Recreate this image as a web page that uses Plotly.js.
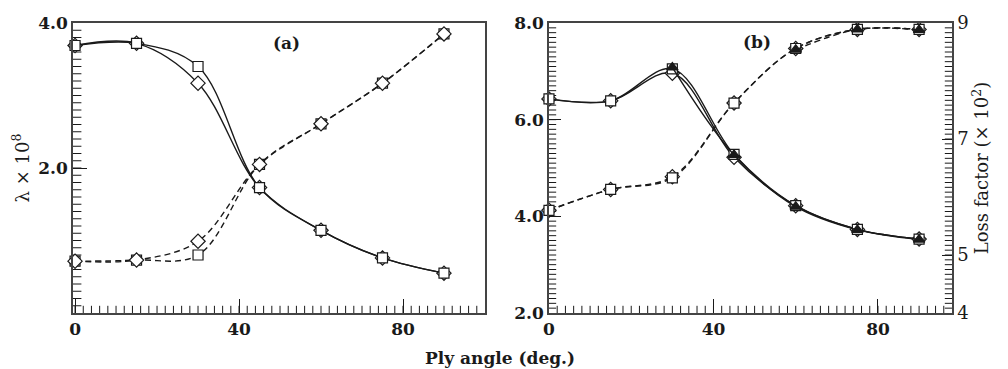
<!DOCTYPE html>
<html>
<head>
<meta charset="utf-8">
<script src="https://cdn.plot.ly/plotly-3.0.1.min.js"></script>
<style>html,body{margin:0;padding:0;background:#fff;}#chart{width:1008px;height:369px;}</style>
</head>
<body>
<div id="chart"></div>
<script>
// Ply angles (deg.)
const plyAngles = [0, 15, 30, 45, 60, 75, 90];

// Panel (a): lambda x 10^8
const aSquareSolid  = [3.69, 3.72, 3.40, 1.73, 1.14, 0.76, 0.55];
const aDiamondSolid = [3.69, 3.72, 3.17, 1.73, 1.14, 0.76, 0.55];
const aSquareDash   = [0.715, 0.73, 0.80, 2.05, 2.61, 3.17, 3.85];
const aDiamondDash  = [0.715, 0.73, 0.99, 2.05, 2.61, 3.17, 3.85];

// Panel (b): solid curves on left axis, dashed curves = loss factor (x10^2) on right axis
const bSquareSolid   = [6.43, 6.39, 7.05, 5.28, 4.22, 3.73, 3.53];
const bDiamondSolid  = [6.43, 6.39, 6.96, 5.22, 4.22, 3.73, 3.53];
const bTriangleSolid = [null, null, 7.08, 5.27, 4.20, 3.72, 3.52];
const bSquareDash    = [5.77, 6.13, 6.33, 7.62, 8.56, 8.89, 8.89];
const bDiamondDash   = [5.77, 6.13, 6.35, 7.62, 8.56, 8.89, 8.89];
const bTriangleDash  = [null, null, null, null, 8.54, 8.89, 8.88];

// Tick values and labels
const xTickVals = [0, 40, 80];
const aYTickVals = [2, 4];
const aYTickText = ['2.0', '4.0'];
const bYTickVals = [2, 4, 6, 8];
const bYTickText = ['2.0', '4.0', '6.0', '8.0'];
const bY2TickVals = [4, 5, 7, 9];
const bY2TickText = ['4', '5', '7', '9'];

const FONT = 'DejaVu Serif, Liberation Serif, serif';
const INK = '#1a1a1a';

const W = 1008, H = 369, ML = 73, MR = 56, MT = 23, MB = 56;
const A_DOM = [0, 0.4687], B_DOM = [0.5415, 1];
const A_XRANGE = [-0.5, 100], B_XRANGE = [0, 98];
const A_YRANGE = [0, 4], B_YRANGE = [2, 8], B_Y2RANGE = [4, 9];

function tr(y, xa, ya, sym, dash, fill, size) {
  return {
    x: plyAngles, y: y, xaxis: xa, yaxis: ya, type: 'scatter', mode: 'lines+markers',
    connectgaps: true,
    line: {color: INK, width: 1.4, dash: dash, shape: 'spline', smoothing: 1},
    marker: {symbol: sym, size: size, color: fill, line: {color: INK, width: 1.2}},
    showlegend: false, hoverinfo: 'skip', cliponaxis: false
  };
}

// Minor tick marks (axis decoration only), built from axis step sizes
const plotW = W - ML - MR, plotH = H - MT - MB;
function pxPerUnit(len, domain, range) { return len * (domain[1] - domain[0]) / (range[1] - range[0]); }
function steps(lo, hi, step) {
  const out = []; const n = Math.round((hi - lo) / step);
  for (let i = 0; i <= n; i++) out.push(+(lo + i * step).toFixed(6));
  return out;
}
function tickTrace(xs, ys, xa, ya, sym, len) {
  return {x: xs, y: ys, xaxis: xa, yaxis: ya, type: 'scatter', mode: 'markers',
    marker: {symbol: sym, size: len, color: INK, line: {color: INK, width: 1}},
    showlegend: false, hoverinfo: 'skip', cliponaxis: false};
}
function minorX(xa, ya, xr, yr, ydom, step, len) {
  const xs = steps(0, xr[1], step).filter(v => v > xr[0] && v < xr[1]);
  const off = (len / 2) / pxPerUnit(plotH, ydom, yr);
  return tickTrace(xs, xs.map(() => yr[0] + off), xa, ya, 'line-ns', len);
}
function minorY(xa, ya, xEdge, dir, xr, xdom, yr, step, len) {
  const ys = steps(yr[0], yr[1], step).filter(v => v > yr[0] && v < yr[1]);
  const off = dir * (len / 2) / pxPerUnit(plotW, xdom, xr);
  return tickTrace(ys.map(() => xEdge + off), ys, xa, ya, 'line-ew', len);
}

const data = [
  minorX('x', 'y', A_XRANGE, A_YRANGE, [0, 1], 2, 6),
  minorY('x', 'y', A_XRANGE[0], 1, A_XRANGE, A_DOM, A_YRANGE, 0.1, 7),
  minorX('x2', 'y2', B_XRANGE, B_YRANGE, [0, 1], 2, 6),
  minorY('x2', 'y2', B_XRANGE[0], 1, B_XRANGE, B_DOM, B_YRANGE, 0.1, 6),
  minorY('x2', 'y3', B_XRANGE[1], -1, B_XRANGE, B_DOM, B_Y2RANGE, 1 / 12, 6),
  tr(aDiamondSolid, 'x', 'y', 'diamond', 'solid', '#fff', 11),
  tr(aSquareSolid, 'x', 'y', 'square', 'solid', '#fff', 10),
  tr(aSquareDash, 'x', 'y', 'square', '6px,4px', '#fff', 10),
  tr(aDiamondDash, 'x', 'y', 'diamond', '6px,4px', '#fff', 11),
  tr(bDiamondSolid, 'x2', 'y2', 'diamond', 'solid', '#fff', 11),
  tr(bSquareSolid, 'x2', 'y2', 'square', 'solid', '#fff', 10),
  tr(bTriangleSolid, 'x2', 'y2', 'triangle-up', 'solid', INK, 10),
  tr(bDiamondDash, 'x2', 'y3', 'diamond', '6px,4px', '#fff', 11),
  tr(bSquareDash, 'x2', 'y3', 'square', '6px,4px', '#fff', 10),
  tr(bTriangleDash, 'x2', 'y3', 'triangle-up', '6px,4px', INK, 10)
];

const tickFont = {family: FONT, size: 17, color: INK, weight: 'bold'};
function xAx(domain, range, anchor) {
  return {
    domain: domain, range: range, anchor: anchor,
    tickmode: 'array', tickvals: xTickVals, ticktext: xTickVals.map(String),
    ticks: 'inside', ticklen: 14, tickwidth: 1.2, tickcolor: INK,
    showline: true, linecolor: '#444', linewidth: 1.5, mirror: true,
    showgrid: false, zeroline: false, tickfont: tickFont
  };
}

const layout = {
  width: W, height: H,
  margin: {l: ML, r: MR, t: MT, b: MB},
  paper_bgcolor: '#fff', plot_bgcolor: '#fff',
  font: {family: FONT, color: INK},
  xaxis: xAx(A_DOM, A_XRANGE, 'y'),
  xaxis2: xAx(B_DOM, B_XRANGE, 'y2'),
  yaxis: {
    domain: [0, 1], range: A_YRANGE, anchor: 'x',
    tickmode: 'array', tickvals: aYTickVals, ticktext: aYTickText,
    ticks: 'inside', ticklen: 14, tickwidth: 1.2, tickcolor: INK,
    showline: true, linecolor: '#444', linewidth: 1.5, mirror: true,
    showgrid: false, zeroline: false, tickfont: tickFont,
    title: {text: 'λ × 10<sup>8</sup>', font: {family: FONT, size: 18, color: INK}, standoff: 4}
  },
  yaxis2: {
    domain: [0, 1], range: B_YRANGE, anchor: 'x2',
    tickmode: 'array', tickvals: bYTickVals, ticktext: bYTickText,
    ticks: 'inside', ticklen: 12, tickwidth: 1.2, tickcolor: INK,
    showline: true, linecolor: '#444', linewidth: 1.5, mirror: true,
    showgrid: false, zeroline: false, tickfont: tickFont
  },
  yaxis3: {
    overlaying: 'y2', side: 'right', range: B_Y2RANGE, anchor: 'x2',
    tickmode: 'array', tickvals: bY2TickVals, ticktext: bY2TickText,
    ticks: 'inside', ticklen: 10, tickwidth: 1.2, tickcolor: INK,
    showline: true, linecolor: '#444', linewidth: 1.5,
    showgrid: false, zeroline: false,
    tickfont: {family: FONT, size: 18, color: INK},
    title: {text: 'Loss factor (× 10<sup>2</sup>)', font: {family: FONT, size: 18, color: INK}, standoff: 8}
  },
  annotations: [
    {text: '<b>(a)</b>', xref: 'x', yref: 'y', x: 51.5, y: 3.73, showarrow: false,
     font: {family: FONT, size: 17, color: INK}},
    {text: '<b>(b)</b>', xref: 'x2', yref: 'y2', x: 50.7, y: 7.6, showarrow: false,
     font: {family: FONT, size: 17, color: INK}},
    {text: '<b>Ply angle (deg.)</b>', xref: 'paper', yref: 'paper', x: 0.486, y: -0.155,
     xanchor: 'center', yanchor: 'middle', showarrow: false,
     font: {family: FONT, size: 17, color: INK}}
  ]
};

Plotly.newPlot('chart', data, layout, {displayModeBar: false});
</script>
</body>
</html>
